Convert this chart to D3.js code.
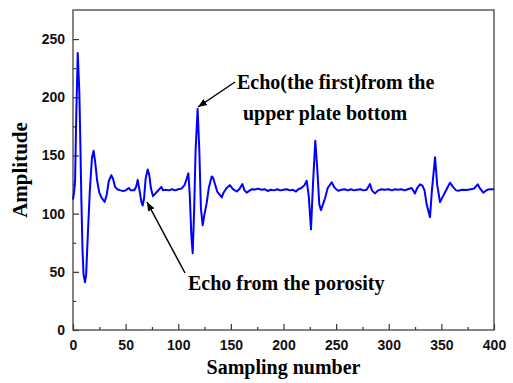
<!DOCTYPE html>
<html>
<head>
<meta charset="utf-8">
<script src="https://cdn.jsdelivr.net/npm/d3@7"></script>
<style>
body { margin: 0; background: #fff; }
</style>
</head>
<body>
<script>
// sample index and amplitude
var samples = [0, 1, 2, 3, 4.5, 6, 7, 8, 9, 10, 11.4, 12.5, 14, 16, 18, 19.6,
    21, 23, 25, 27, 30, 32, 34, 36.4, 38, 40, 42, 45, 48, 50, 53, 55, 58, 60,
    61.5, 63, 65, 66.2, 67.5, 69, 71, 72.5, 74, 76, 78, 80, 82, 84, 85.5, 88,
    91, 94, 97, 100, 103, 106, 108, 109.6, 111, 112.5, 113.7, 115, 116.5,
    118.4, 120, 121.5, 123.2, 125, 127, 129, 131.8, 133, 135, 137, 139.7,
    141.3, 143, 146, 149, 152, 155.5, 158, 160.9, 163, 165, 168, 170, 173,
    176, 179, 182, 185, 188, 191, 194, 197, 200, 203, 206, 209, 211.9, 214,
    217, 220, 222, 224, 226.1, 228, 230.2, 232, 234, 235.6, 237.5, 239.4, 242,
    245.8, 248, 250, 252, 255, 258, 261, 264, 267, 270, 273, 276, 279, 282.2,
    284, 286.9, 290, 293.3, 296, 300, 303, 306, 309, 312, 315, 318, 321.8,
    324.9, 327, 329.7, 332, 334, 336, 339.2, 341, 344, 346, 348.7, 351, 355,
    358.2, 361, 364, 366.1, 370, 374, 378, 381, 384.5, 386.5, 389.8, 392,
    394.6, 397, 400];
var amplitude = [112, 118, 129, 180, 238, 205, 160, 110, 70, 48, 41, 48, 80,
    120, 148, 154, 145, 128, 118, 114, 110, 116, 128, 133, 130, 123, 121, 120,
    119.5, 120, 122, 120, 120, 123, 129, 121, 110, 107, 113, 130, 138, 133,
    122, 115, 117, 119, 121, 123, 120, 120.5, 120, 121, 120, 121, 121.5, 124.5,
    130, 134.6, 115, 80, 66, 100, 155, 190, 155, 105, 90, 100, 109, 122, 132,
    131, 125, 119, 116, 114, 118, 122, 124.5, 121, 119, 121, 125.4, 120, 118,
    120, 121, 120.8, 121.5, 120.5, 121, 119.5, 120.5, 120, 121, 120, 120.5,
    121, 120, 120.5, 119, 121, 122, 124.5, 128.3, 115, 86.5, 125, 162.6, 140,
    108, 103, 108, 113, 122, 127, 123, 121, 119.7, 120.5, 121, 120, 121, 120,
    120.5, 121, 120, 120.5, 125.4, 120, 117.4, 120, 121, 120.5, 121, 120, 121,
    120.5, 121, 120, 121, 122, 117.4, 122, 125.2, 124, 120, 108, 97, 120,
    148.4, 125, 110, 114, 121, 126.6, 123, 120, 119.7, 120.5, 120.3, 121,
    121.5, 125.2, 122, 118, 119.5, 120.8, 121, 121];
var xTicks = [0, 50, 100, 150, 200, 250, 300, 350, 400];
var yTicks = [0, 50, 100, 150, 200, 250];

var W = 513, H = 383;
var margin = {top: 10, right: 19, bottom: 53, left: 73},
    width = W - margin.left - margin.right,
    height = H - margin.top - margin.bottom;

var svg = d3.select("body").append("svg")
    .attr("width", W)
    .attr("height", H);
var g = svg.append("g")
    .attr("transform", "translate(" + margin.left + "," + margin.top + ")");

var xScale = d3.scaleLinear().domain([0, 400]).range([0, width]);
var yScale = d3.scaleLinear().domain([0, 275]).range([height, 0]);

var tickFont = "'Liberation Sans', Arial, sans-serif";
var titleFont = "'Liberation Serif', 'Times New Roman', serif";

// minor ticks every 25, inward
var minorX = d3.range(25, 400, 50), minorY = d3.range(25, 275, 50);

var xAxis = g.append("g")
    .attr("transform", "translate(0," + height + ")")
    .call(d3.axisBottom(xScale).tickValues(xTicks).tickSizeInner(-6)
        .tickSizeOuter(0).tickPadding(10));
var xMinor = g.append("g")
    .attr("transform", "translate(0," + height + ")")
    .call(d3.axisBottom(xScale).tickValues(minorX).tickSizeInner(-3)
        .tickSizeOuter(0).tickFormat(""));
var yAxis = g.append("g")
    .call(d3.axisLeft(yScale).tickValues(yTicks).tickSizeInner(-6)
        .tickSizeOuter(0).tickPadding(8));
var yMinor = g.append("g")
    .call(d3.axisLeft(yScale).tickValues(minorY).tickSizeInner(-3)
        .tickSizeOuter(0).tickFormat(""));

[xAxis, xMinor, yAxis, yMinor].forEach(function(a) {
    a.select(".domain").remove();
    a.selectAll("line").attr("stroke", "#333").attr("stroke-width", 1.2);
    a.selectAll("text")
        .attr("font-family", tickFont)
        .attr("font-weight", "bold")
        .attr("font-size", "14px")
        .attr("fill", "#111");
});

// frame
g.append("rect")
    .attr("width", width)
    .attr("height", height)
    .attr("fill", "none")
    .attr("stroke", "#444")
    .attr("stroke-width", 1.3);

// signal
var line = d3.line()
    .x(function(d, i) { return xScale(samples[i]); })
    .y(function(d) { return yScale(d); });
g.append("path")
    .datum(amplitude)
    .attr("d", line)
    .attr("fill", "none")
    .attr("stroke", "#0000ff")
    .attr("stroke-width", 2)
    .attr("stroke-linejoin", "round");

// axis titles
svg.append("text")
    .attr("x", margin.left + width / 2)
    .attr("y", 374)
    .attr("text-anchor", "middle")
    .attr("font-family", titleFont)
    .attr("font-weight", "bold")
    .attr("font-size", "20px")
    .text("Sampling number");
svg.append("text")
    .attr("transform", "translate(27," + (margin.top + height / 2) + ") rotate(-90)")
    .attr("text-anchor", "middle")
    .attr("font-family", titleFont)
    .attr("font-weight", "bold")
    .attr("font-size", "21px")
    .text("Amplitude");

// arrow marker
svg.append("defs").append("marker")
    .attr("id", "arrow")
    .attr("viewBox", "0 0 10 10")
    .attr("refX", 10).attr("refY", 5)
    .attr("markerWidth", 9).attr("markerHeight", 9)
    .attr("markerUnits", "userSpaceOnUse")
    .attr("orient", "auto")
    .append("path")
    .attr("d", "M0,1 L10,5 L0,9 z")
    .attr("fill", "#000");

function annotate(x1, y1, x2, y2) {
    svg.append("line")
        .attr("x1", x1).attr("y1", y1)
        .attr("x2", x2).attr("y2", y2)
        .attr("stroke", "#000")
        .attr("stroke-width", 1.5)
        .attr("marker-end", "url(#arrow)");
}
annotate(235, 82, 198, 107);
annotate(185, 273, 147, 202);

var notes = [
    {x: 237, y: 89, t: "Echo(the first)from the"},
    {x: 243, y: 120, t: "upper plate bottom"},
    {x: 188, y: 290, t: "Echo from the porosity"}
];
svg.selectAll(".note")
    .data(notes)
    .enter()
    .append("text")
    .attr("class", "note")
    .attr("x", function(d) { return d.x; })
    .attr("y", function(d) { return d.y; })
    .attr("font-family", titleFont)
    .attr("font-weight", "bold")
    .attr("font-size", "20px")
    .text(function(d) { return d.t; });
</script>
</body>
</html>
